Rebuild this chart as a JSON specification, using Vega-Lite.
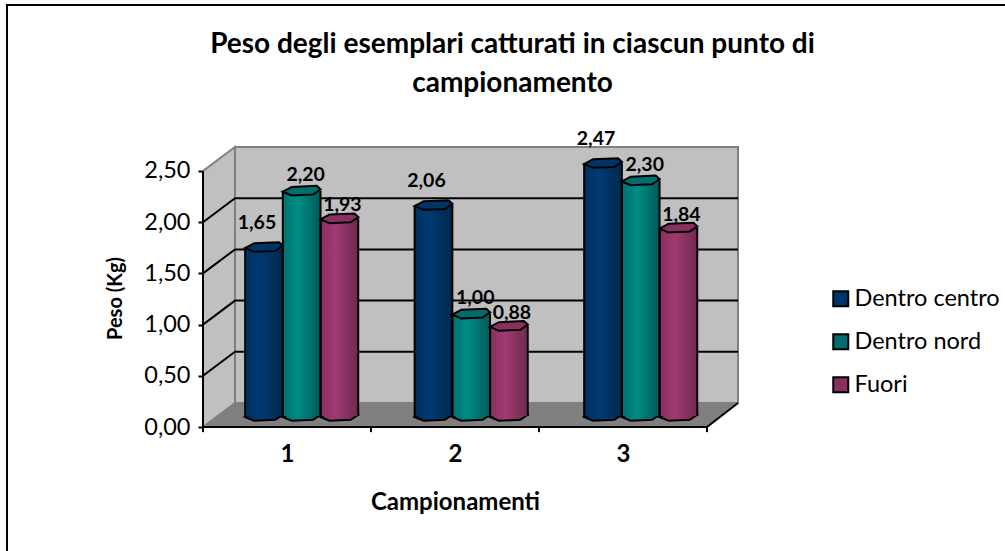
{"$schema":"https://vega.github.io/schema/vega-lite/v6.json","width":1005,"height":551,"autosize":"none","padding":0,"background":"white","view":{"stroke":null},
"config":{"font":"Lato"},
"title":{"text":["Peso degli esemplari catturati in ciascun punto di","campionamento"],"font":"Lato","fontSize":28,"fontWeight":"bold","color":"black","anchor":"middle","frame":"group","dx":10,"baseline":"top","offset":-98,"lineHeight":39},
"datasets":{
"rows":[{"campionamento":1,"serie":"Dentro centro","idx":0,"peso":1.65},{"campionamento":1,"serie":"Dentro nord","idx":1,"peso":2.20},{"campionamento":1,"serie":"Fuori","idx":2,"peso":1.93},{"campionamento":2,"serie":"Dentro centro","idx":0,"peso":2.06},{"campionamento":2,"serie":"Dentro nord","idx":1,"peso":1.00},{"campionamento":2,"serie":"Fuori","idx":2,"peso":0.88},{"campionamento":3,"serie":"Dentro centro","idx":0,"peso":2.47},{"campionamento":3,"serie":"Dentro nord","idx":1,"peso":2.30},{"campionamento":3,"serie":"Fuori","idx":2,"peso":1.84}],
"frame":[{"u1":-1.1667,"u2":5,"v1":-1.5,"v2":4.121}],
"wall":[{"u1":0.1905,"u2":3.1845,"v1":0.2344,"v2":2.7344}],
"side":[{"u":0,"v":0,"v2":2.5},{"u":0.1905,"v":0.2344,"v2":2.7344}],
"floor":[{"v":0,"u":0,"u2":3},{"v":0.2344,"u":0.1905,"u2":3.1845}],
"grid":[{"g":0.5,"u":0,"v":0.5},{"g":0.5,"u":0.1905,"v":0.7344},{"g":0.5,"u":3.1845,"v":0.7344},{"g":1,"u":0,"v":1},{"g":1,"u":0.1905,"v":1.2344},{"g":1,"u":3.1845,"v":1.2344},{"g":1.5,"u":0,"v":1.5},{"g":1.5,"u":0.1905,"v":1.7344},{"g":1.5,"u":3.1845,"v":1.7344},{"g":2,"u":0,"v":2},{"g":2,"u":0.1905,"v":2.2344},{"g":2,"u":3.1845,"v":2.2344}],
"axisline":[{"u":0,"v":2.5},{"u":0,"v":0},{"u":3,"v":0},{"u":3.1845,"v":0.2344}],
"ticks":[{"t":0,"a":0,"b":-0.05},{"t":1,"a":0,"b":-0.05},{"t":2,"a":0,"b":-0.05},{"t":3,"a":0,"b":-0.05}]
},
"layer":[
{"data":{"name":"frame"},"mark":{"type":"rect","fill":null,"stroke":"black","strokeWidth":2},"encoding":{
"x":{"field":"u1","type":"quantitative","scale":{"domain":[-1.2083,4.7738],"nice":false,"zero":false},"axis":{"values":[0.5,1.5,2.5],"offset":-124,"domain":false,"ticks":false,"grid":false,"labelExpr":"datum.value+0.5","labelFont":"Lato","labelFontSize":24,"labelFontWeight":"bold","labelColor":"black","labelPadding":15,"title":"Campionamenti","titleFont":"Lato","titleFontSize":24,"titleFontWeight":"bold","titleColor":"black","titleX":455,"titleY":75,"titleBaseline":"middle"}},
"x2":{"field":"u2"},
"y":{"field":"v1","type":"quantitative","scale":{"domain":[-1.2109,4.1699],"nice":false,"zero":false},"axis":{"values":[0,0.5,1,1.5,2,2.5],"offset":-203,"domain":false,"grid":false,"tickColor":"black","tickWidth":2,"tickSize":5,"labelExpr":"replace(format(datum.value,'.2f'),'.',',')","labelFont":"Lato","labelFontSize":23.5,"labelColor":"black","labelPadding":8,"title":"Peso (Kg)","titleFont":"Lato","titleFontSize":20,"titleFontWeight":"bold","titleColor":"black","titleX":-88,"titleY":298,"titleBaseline":"middle"}},
"y2":{"field":"v2"}}},
{"data":{"name":"side"},"mark":{"type":"area","fill":"#c0c0c0","stroke":"#808080","strokeWidth":2},"encoding":{"x":{"field":"u","type":"quantitative"},"y":{"field":"v","type":"quantitative"},"y2":{"field":"v2"}}},
{"data":{"name":"wall"},"mark":{"type":"rect","fill":"#c0c0c0","stroke":"#808080","strokeWidth":2},"encoding":{"x":{"field":"u1","type":"quantitative"},"x2":{"field":"u2"},"y":{"field":"v1","type":"quantitative"},"y2":{"field":"v2"}}},
{"data":{"name":"floor"},"mark":{"type":"area","orient":"horizontal","fill":"#808080"},"encoding":{"y":{"field":"v","type":"quantitative"},"x":{"field":"u","type":"quantitative"},"x2":{"field":"u2"}}},
{"data":{"name":"grid"},"mark":{"type":"line","color":"black","strokeWidth":2},"encoding":{"detail":{"field":"g"},"x":{"field":"u","type":"quantitative"},"y":{"field":"v","type":"quantitative"}}},
{"data":{"name":"axisline"},"mark":{"type":"line","color":"black","strokeWidth":2},"encoding":{"x":{"field":"u","type":"quantitative"},"y":{"field":"v","type":"quantitative"},"order":{"field":"none"}}},
{"data":{"name":"ticks"},"mark":{"type":"rule","color":"black","strokeWidth":2},"encoding":{"x":{"field":"t","type":"quantitative"},"y":{"field":"a","type":"quantitative"},"y2":{"field":"b"}}},
{"data":{"name":"rows"},"transform":[{"filter":"datum.idx==0"},{"calculate":"(datum.campionamento-1)*1.009+0.363+0.2244*datum.idx","as":"pos"},{"calculate":"datum.pos-0.1122","as":"l"},{"calculate":"datum.pos+0.1122","as":"r"},{"calculate":"datum.peso+0.107","as":"topv"}],
"layer":[
{"mark":{"type":"point","filled":true,"opacity":1,"shape":"M-1,0.05L-0.52,0.25L0.6,0.2L1,-0.07L0.79,-0.26L-0.52,-0.2Z","size":1444,"stroke":"black","strokeWidth":2,"fill":{"x1":0,"x2":1,"y1":0,"y2":0,"gradient":"linear","stops":[{"offset":0,"color":"#002f60"},{"offset":0.4,"color":"#003a72"},{"offset":1,"color":"#00284c"}]}},"encoding":{"x":{"field":"pos","type":"quantitative"},"y":{"datum":0.107,"type":"quantitative"}}},
{"mark":{"type":"bar","stroke":null,"color":{"x1":0,"x2":1,"y1":0,"y2":0,"gradient":"linear","stops":[{"offset":0,"color":"#002f60"},{"offset":0.4,"color":"#003a72"},{"offset":1,"color":"#00284c"}]}},"encoding":{"x":{"field":"l","type":"quantitative"},"x2":{"field":"r"},"y":{"field":"topv","type":"quantitative"},"y2":{"datum":0.107}}}
]},
{"data":{"name":"rows"},"transform":[{"filter":"datum.idx==1"},{"calculate":"(datum.campionamento-1)*1.009+0.363+0.2244*datum.idx","as":"pos"},{"calculate":"datum.pos-0.1122","as":"l"},{"calculate":"datum.pos+0.1122","as":"r"},{"calculate":"datum.peso+0.107","as":"topv"}],
"layer":[
{"mark":{"type":"point","filled":true,"opacity":1,"shape":"M-1,0.05L-0.52,0.25L0.6,0.2L1,-0.07L0.79,-0.26L-0.52,-0.2Z","size":1444,"stroke":"black","strokeWidth":2,"fill":{"x1":0,"x2":1,"y1":0,"y2":0,"gradient":"linear","stops":[{"offset":0,"color":"#007070"},{"offset":0.4,"color":"#008c86"},{"offset":1,"color":"#005a58"}]}},"encoding":{"x":{"field":"pos","type":"quantitative"},"y":{"datum":0.107,"type":"quantitative"}}},
{"mark":{"type":"bar","stroke":null,"color":{"x1":0,"x2":1,"y1":0,"y2":0,"gradient":"linear","stops":[{"offset":0,"color":"#007070"},{"offset":0.4,"color":"#008c86"},{"offset":1,"color":"#005a58"}]}},"encoding":{"x":{"field":"l","type":"quantitative"},"x2":{"field":"r"},"y":{"field":"topv","type":"quantitative"},"y2":{"datum":0.107}}}
]},
{"data":{"name":"rows"},"transform":[{"filter":"datum.idx==2"},{"calculate":"(datum.campionamento-1)*1.009+0.363+0.2244*datum.idx","as":"pos"},{"calculate":"datum.pos-0.1122","as":"l"},{"calculate":"datum.pos+0.1122","as":"r"},{"calculate":"datum.peso+0.107","as":"topv"}],
"layer":[
{"mark":{"type":"point","filled":true,"opacity":1,"shape":"M-1,0.05L-0.52,0.25L0.6,0.2L1,-0.07L0.79,-0.26L-0.52,-0.2Z","size":1444,"stroke":"black","strokeWidth":2,"fill":{"x1":0,"x2":1,"y1":0,"y2":0,"gradient":"linear","stops":[{"offset":0,"color":"#8a2f60"},{"offset":0.4,"color":"#a03a70"},{"offset":1,"color":"#6e2a50"}]}},"encoding":{"x":{"field":"pos","type":"quantitative"},"y":{"datum":0.107,"type":"quantitative"}}},
{"mark":{"type":"bar","stroke":null,"color":{"x1":0,"x2":1,"y1":0,"y2":0,"gradient":"linear","stops":[{"offset":0,"color":"#8a2f60"},{"offset":0.4,"color":"#a03a70"},{"offset":1,"color":"#6e2a50"}]}},"encoding":{"x":{"field":"l","type":"quantitative"},"x2":{"field":"r"},"y":{"field":"topv","type":"quantitative"},"y2":{"datum":0.107}}}
]},
{"data":{"name":"rows"},"transform":[{"calculate":"(datum.campionamento-1)*1.009+0.363+0.2244*datum.idx","as":"pos"},{"calculate":"datum.pos-0.1122","as":"l"},{"calculate":"datum.peso+0.107","as":"topv"}],"mark":{"type":"rule","color":"black","strokeWidth":2},"encoding":{"x":{"field":"l","type":"quantitative"},"y":{"field":"topv","type":"quantitative"},"y2":{"datum":0.107}}},
{"data":{"name":"rows"},"transform":[{"calculate":"(datum.campionamento-1)*1.009+0.363+0.2244*datum.idx","as":"pos"},{"calculate":"datum.pos+0.1122","as":"r"},{"calculate":"datum.peso+0.107","as":"topv"}],"mark":{"type":"rule","color":"black","strokeWidth":2},"encoding":{"x":{"field":"r","type":"quantitative"},"y":{"field":"topv","type":"quantitative"},"y2":{"datum":0.107}}},
{"data":{"name":"rows"},"transform":[{"calculate":"(datum.campionamento-1)*1.009+0.363+0.2244*datum.idx","as":"pos"},{"calculate":"datum.peso+0.107","as":"topv"}],"mark":{"type":"point","filled":true,"opacity":1,"shape":"M-1,0.05L-0.52,0.25L0.6,0.2L1,-0.07L0.79,-0.26L-0.52,-0.2Z","size":1444,"stroke":"black","strokeWidth":2},"encoding":{"x":{"field":"pos","type":"quantitative"},"y":{"field":"topv","type":"quantitative"},
"fill":{"field":"serie","type":"nominal","scale":{"domain":["Dentro centro","Dentro nord","Fuori"],"range":["#003366","#006e6e","#8a2f62"]},"legend":{"title":null,"orient":"none","legendX":829,"legendY":287,"symbolType":"square","symbolSize":225,"symbolStrokeColor":"black","symbolStrokeWidth":2,"symbolOpacity":1,"labelFont":"Lato","labelFontSize":23.5,"labelColor":"black","labelOffset":2,"rowPadding":18,"labelLimit":200,"values":["Dentro centro","Dentro nord","Fuori"]}}}},
{"data":{"name":"rows"},"transform":[{"calculate":"(datum.campionamento-1)*1.009+0.363+0.2244*datum.idx+[-7,4,3][datum.idx]/168","as":"lu"},{"calculate":"datum.peso+0.107+[24,16,13][datum.idx]/102.4","as":"lv"},{"calculate":"replace(format(datum.peso,'.2f'),'.',',')","as":"lab"}],"mark":{"type":"text","font":"Lato","fontSize":19.5,"fontWeight":"bold","color":"black","baseline":"middle"},"encoding":{"x":{"field":"lu","type":"quantitative"},"y":{"field":"lv","type":"quantitative"},"text":{"field":"lab"}}}
]}
